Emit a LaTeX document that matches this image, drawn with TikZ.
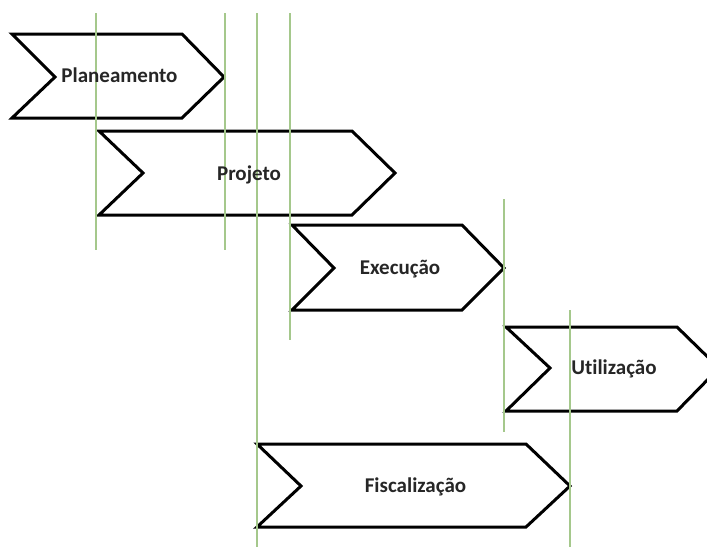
\documentclass[tikz,border=0pt]{standalone}
\usepackage{fontspec}
\setmainfont{Carlito}[Ligatures=NoCommon]
\definecolor{guide}{RGB}{165,200,140}
\begin{document}
\begin{tikzpicture}[x=1pt,y=-1pt,
  chev/.style={draw=black,line width=3pt,line join=miter,fill=white},
  guideline/.style={draw=guide,line width=1.2pt},
  lbl/.style={font=\fontsize{21}{24}\selectfont\bfseries,anchor=base,inner sep=0pt,text=black!85}]
\useasboundingbox (0,0) rectangle (707,547);
\begin{scope}
\clip (0,0) rectangle (707,547);
% chevrons
\draw[chev] (12,34) -- (182,34) -- (224,77) -- (182,118) -- (12,118) -- (55,77) -- cycle;
\draw[chev] (99,131) -- (352,131) -- (395,173) -- (352,215) -- (99,215) -- (143,173) -- cycle;
\draw[chev] (292,225) -- (462,225) -- (504,268) -- (462,310) -- (292,310) -- (334,268) -- cycle;
\draw[chev] (506,327) -- (677,327) -- (719,368) -- (677,411) -- (506,411) -- (550,368) -- cycle;
\draw[chev] (257,444) -- (526,444) -- (570,486) -- (526,527) -- (257,527) -- (301,486) -- cycle;
% guide lines
\coordinate (g1a) at (96,13);  \coordinate (g1b) at (96,250);
\coordinate (g2a) at (225,13); \coordinate (g2b) at (225,250);
\coordinate (g3a) at (257,13); \coordinate (g3b) at (257,547);
\coordinate (g4a) at (290,13); \coordinate (g4b) at (290,340);
\coordinate (g5a) at (504,199); \coordinate (g5b) at (504,432);
\coordinate (g6a) at (570,310); \coordinate (g6b) at (570,547);
\draw[guideline] (g1a) -- (g1b);
\draw[guideline] (g2a) -- (g2b);
\draw[guideline] (g3a) -- (g3b);
\draw[guideline] (g4a) -- (g4b);
\draw[guideline] (g5a) -- (g5b);
\draw[guideline] (g6a) -- (g6b);
\end{scope}
% labels
\node[lbl] (plan) at (119.5,82) {Planeamento};
\node[lbl] (proj) at (249,180) {Projeto};
\node[lbl] (exec) at (400,274) {Execução};
\node[lbl] (util) at (614,374) {Utilização};
\node[lbl] (fisc) at (415.5,492) {Fiscalização};
\end{tikzpicture}
\end{document}
